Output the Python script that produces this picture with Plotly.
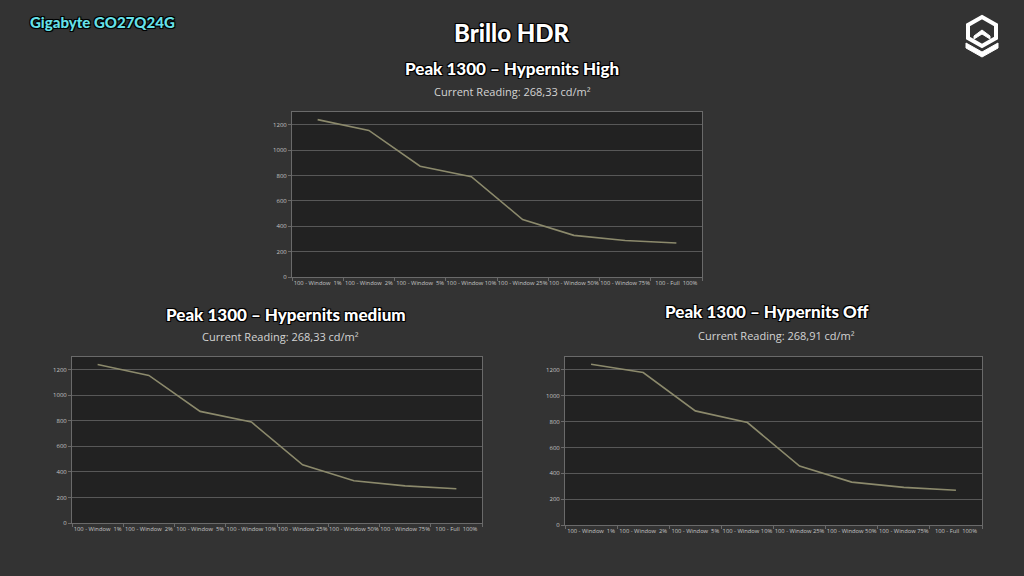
import plotly.graph_objects as go

W, H = 1024, 576

categories = ["100 - Window\u00a0 1%", "100 - Window\u00a0 2%", "100 - Window\u00a0 5%", "100 - Window 10%",
              "100 - Window 25%", "100 - Window 50%", "100 - Window 75%", "100 - Full\u00a0 100%"]
high_values = [1240, 1155, 873, 790, 453, 328, 288, 268]
medium_values = [1242, 1156, 874, 791, 456, 331, 291, 268]
off_values = [1244, 1180, 883, 793, 456, 332, 291, 269]
y_ticks = [0, 200, 400, 600, 800, 1000, 1200]

BG = "#333333"
PLOT_BG = "#222222"
GRID = "#585858"
BORDER = "#6a6a6a"
LINE = "#8c8a6c"
TICKFONT = "#c4c4c4"

def px_x(v):
    return v / W

def px_y(v):
    return 1 - v / H

fig = go.Figure()

panels = [
    (high_values, "", 292, 702, 112, 277),
    (medium_values, "2", 72, 482, 357, 523),
    (off_values, "3", 565, 982, 357, 525),
]

for vals, ax, x0, x1, yt, yb in panels:
    fig.add_trace(go.Scatter(
        x=categories, y=vals, mode="lines",
        line=dict(color=LINE, width=1.6),
        xaxis="x" + ax, yaxis="y" + ax, showlegend=False, hoverinfo="skip"))
    fig.layout["xaxis" + ax] = dict(
        domain=[px_x(x0), px_x(x1)], anchor="y" + ax, type="category",
        tickson="boundaries", ticks="outside", ticklen=3, tickcolor=BORDER,
        showgrid=False, showline=True, linecolor=BORDER, linewidth=1, mirror=True,
        tickfont=dict(family="Open Sans", size=5.8, color=TICKFONT), tickangle=0,
        range=[-0.5, 7.5], fixedrange=True, automargin=False)
    fig.layout["yaxis" + ax] = dict(
        domain=[px_y(yb), px_y(yt)], anchor="x" + ax, range=[0, 1300],
        tickvals=y_ticks, ticks="outside", ticklen=3, tickcolor=BORDER,
        showgrid=True, gridcolor=GRID, gridwidth=1, zeroline=False,
        showline=True, linecolor=BORDER, linewidth=1, mirror=True,
        tickfont=dict(family="Open Sans", size=6, color=TICKFONT), fixedrange=True,
        automargin=False)

outline = "-1px -1px 0 #000, 1px -1px 0 #000, -1px 1px 0 #000, 1px 1px 0 #000, 0 0 2px #000"

def title(text, x, y, size, color="#ffffff", anchor="center"):
    fig.add_annotation(text=text, x=px_x(x), y=px_y(y), xref="paper", yref="paper",
                       xanchor=anchor, yanchor="middle", showarrow=False,
                       font=dict(family="Lato", size=size, color=color, weight=900, shadow=outline))

def sub(text, x, y):
    fig.add_annotation(text=text, x=px_x(x), y=px_y(y), xref="paper", yref="paper",
                       xanchor="center", yanchor="middle", showarrow=False,
                       font=dict(family="Open Sans", size=11, color="#d4d4d4"))

title("Gigabyte GO27Q24G", 28, 22, 15, color="#66e0e8", anchor="left")
title("Brillo HDR", 512, 33, 24)
title("Peak 1300 – Hypernits High", 512, 69, 17)
sub("Current Reading: 268,33 cd/m²", 512, 91)
title("Peak 1300 – Hypernits medium", 286, 314, 17)
sub("Current Reading: 268,33 cd/m²", 280, 336)
title("Peak 1300 – Hypernits Off", 767, 311, 17)
sub("Current Reading: 268,91 cd/m²", 776, 335)

# logo (decorative)
def P(x, y):
    return f"{px_x(x)},{px_y(y)}"

hexagon = "M " + " L ".join([P(982, 17), P(996, 25), P(996, 38), P(982, 46), P(968, 38), P(968, 25)]) + " Z"
fig.add_shape(type="path", path=hexagon, xref="paper", yref="paper",
              line=dict(color="white", width=4), fillcolor="rgba(0,0,0,0)")
chev = "M " + " L ".join([P(974, 36), P(982, 30), P(990, 36), P(990, 39), P(982, 34), P(974, 39)]) + " Z"
fig.add_shape(type="path", path=chev, xref="paper", yref="paper",
              line=dict(color="white", width=1), fillcolor="white")
vee = "M " + " L ".join([P(966, 43), P(982, 52), P(998, 43), P(998, 48), P(982, 57), P(966, 48)]) + " Z"
fig.add_shape(type="path", path=vee, xref="paper", yref="paper",
              line=dict(color="white", width=1), fillcolor="white")

fig.update_layout(width=W, height=H, margin=dict(l=0, r=0, t=0, b=0),
                  paper_bgcolor=BG, plot_bgcolor=PLOT_BG, showlegend=False)

fig.write_html("out.html", config={"displayModeBar": False},
               post_script="document.body.style.margin='0';document.body.style.background='#333333';")
